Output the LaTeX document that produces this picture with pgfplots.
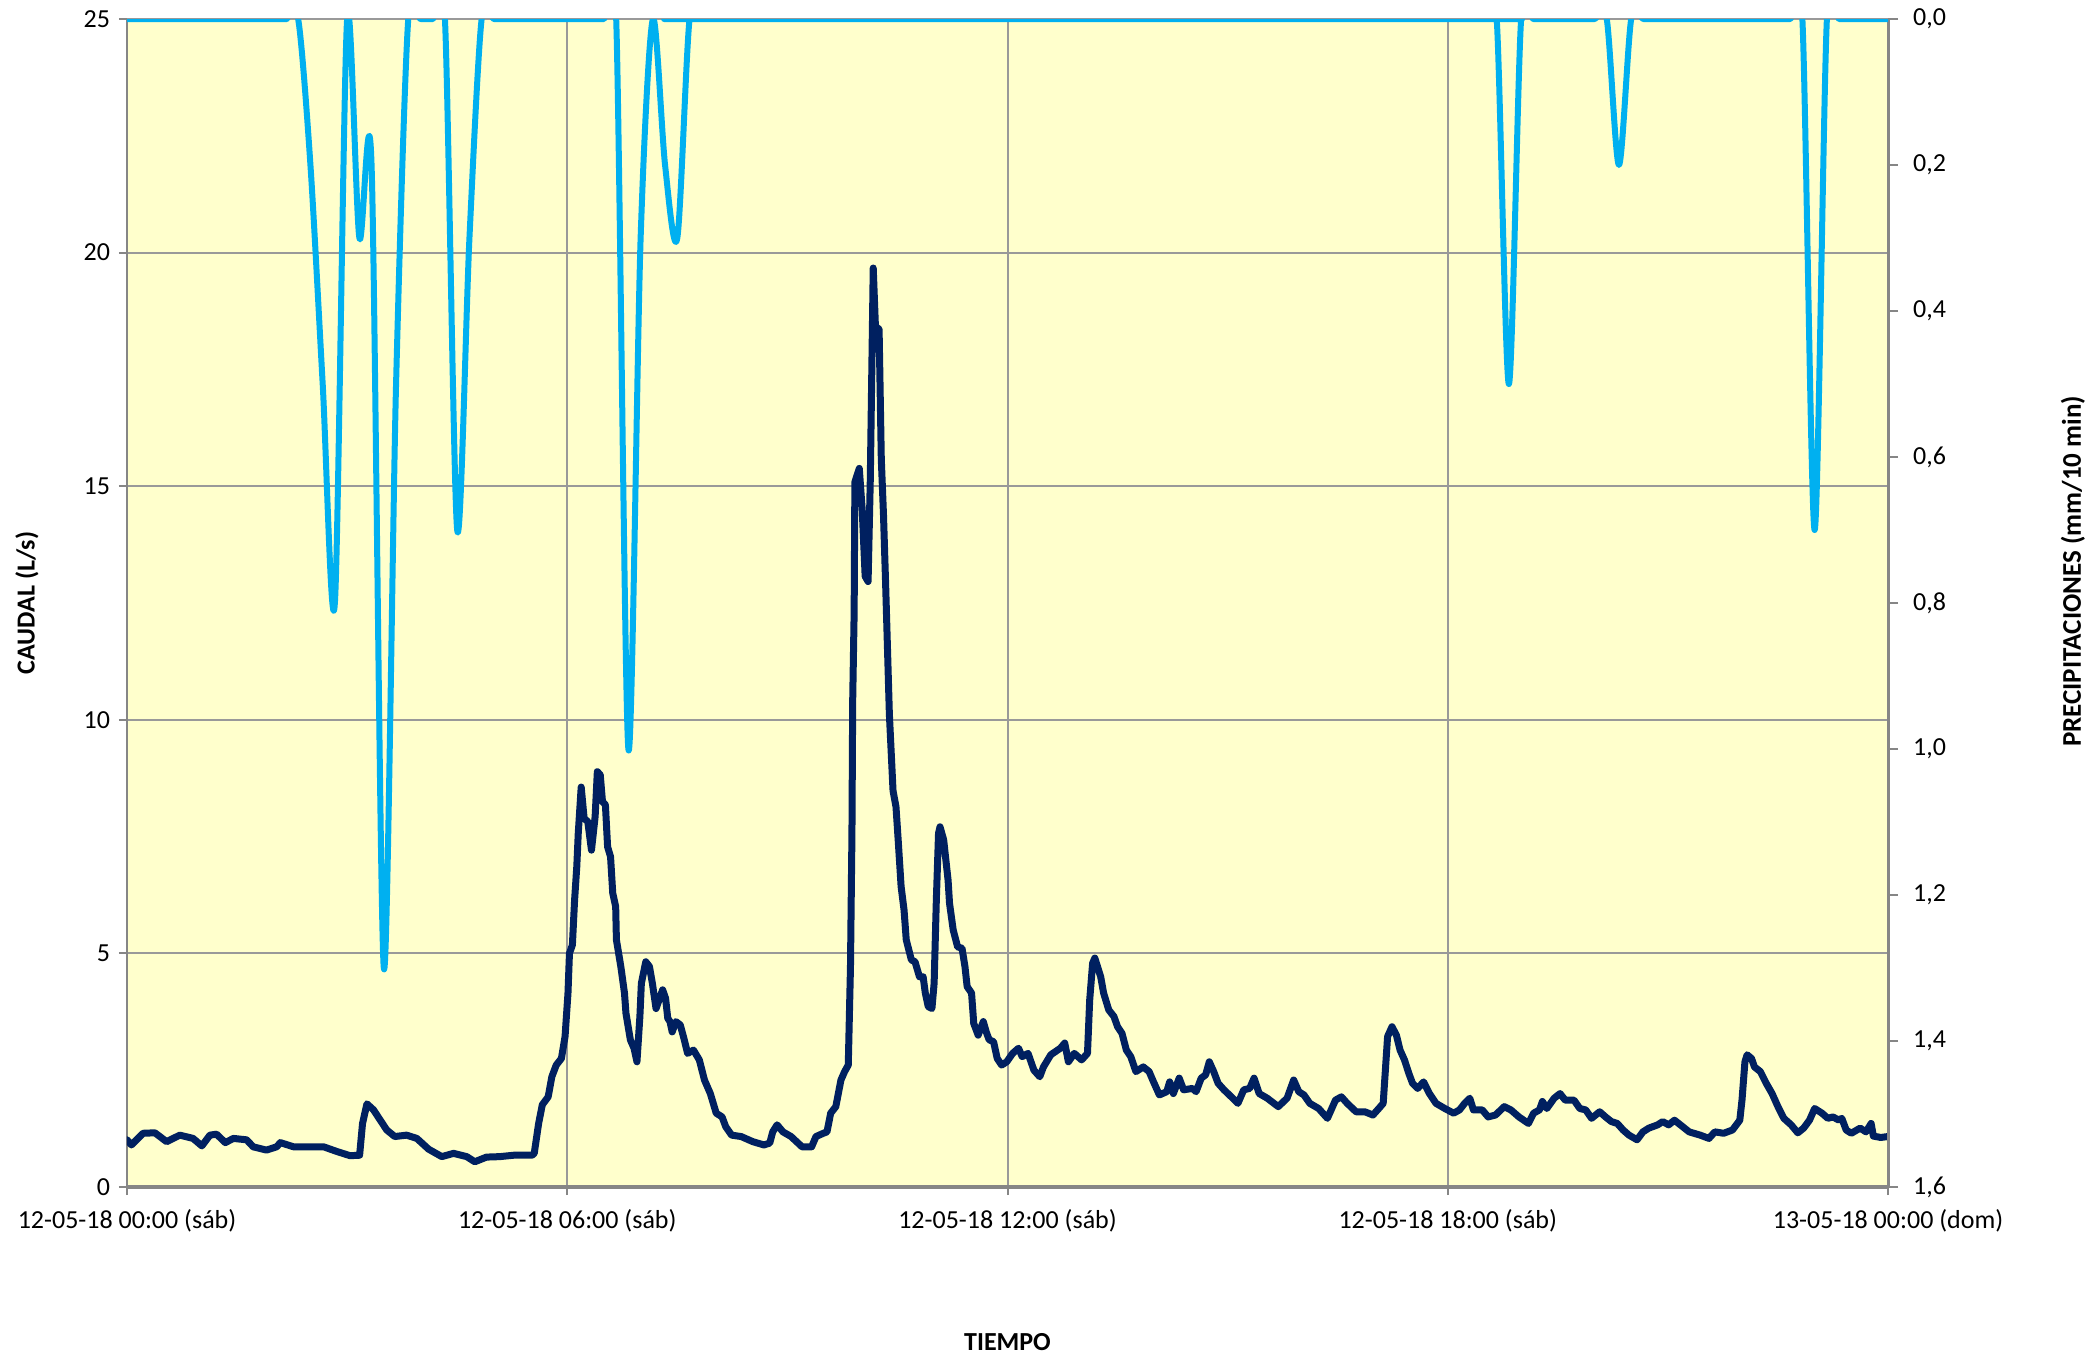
\documentclass[border=0pt]{standalone}
\usepackage{pgfplots}
\pgfplotsset{compat=1.18}
\usepackage{fontspec}
\setmainfont{Carlito}
\definecolor{bg}{RGB}{255,255,204}
\definecolor{caudal}{RGB}{0,32,96}
\definecolor{lluvia}{RGB}{0,176,240}
\definecolor{gridc}{RGB}{153,153,153}
\definecolor{axc}{RGB}{134,134,134}
\begin{document}
\begin{tikzpicture}[x=1pt,y=1pt]
\useasboundingbox (-63.5,-86) rectangle (980,593.5);
\begin{axis}[
 at={(0,0)}, anchor=south west, scale only axis,
 width=880.5pt, height=584pt,
 xmin=0, xmax=24, ymin=0, ymax=25,
 axis background/.style={fill=bg},
 axis x line=bottom, axis y line=left,
 x axis line style={-, draw=axc, line width=2pt},
 y axis line style={-, draw=axc, line width=1pt},
 xtick={0,6,12,18,24},
 xticklabels={12-05-18 00:00 (sáb),12-05-18 06:00 (sáb),12-05-18 12:00 (sáb),12-05-18 18:00 (sáb),13-05-18 00:00 (dom)},
 ytick={0,5,10,15,20,25},
 tick align=outside,
 major tick length=4pt,
 tick style={draw=axc, line width=1pt},
 grid=major,
 major grid style={draw=gridc, line width=1pt},
 /pgf/number format/assume math mode=true,
 every tick label/.append style={font=\fontsize{13}{15.6}\selectfont, text=black},
 xticklabel style={yshift=-3.5pt},
 yticklabel style={xshift=-1pt},
 every axis x label/.style={at={(axis description cs:0.5,-0.1327)}, anchor=center, font=\bfseries\fontsize{13}{15.6}\selectfont},
 every axis y label/.style={at={(axis description cs:-0.0568,0.5)}, anchor=center, rotate=90, font=\bfseries\fontsize{13}{15.6}\selectfont},
 xlabel={TIEMPO}, ylabel={CAUDAL (L/s)},
]
\addplot[caudal, line width=3.5pt, line join=round, line cap=round] coordinates {
(0,1.01)(0.06,0.90)(0.22,1.15)(0.38,1.16)(0.54,0.97)(0.72,1.11)(0.90,1.04)(1.02,0.88)(1.13,1.11)(1.22,1.13)(1.34,0.95)(1.45,1.04)(1.63,1.01)(1.72,0.86)(1.90,0.79)(2.04,0.86)(2.09,0.95)(2.27,0.86)(2.45,0.86)(2.68,0.86)(2.86,0.76)(3.04,0.67)(3.17,0.68)(3.21,1.36)(3.27,1.78)(3.36,1.65)(3.54,1.22)(3.65,1.08)(3.81,1.11)(3.95,1.04)(4.11,0.81)(4.29,0.65)(4.45,0.72)(4.63,0.65)(4.74,0.54)(4.90,0.64)(5.08,0.65)(5.27,0.68)(5.52,0.68)
(5.55,0.72)(5.61,1.36)(5.66,1.76)(5.74,1.93)(5.79,2.36)(5.85,2.61)(5.92,2.75)(5.97,3.22)(6.01,4.15)(6.03,5.00)(6.07,5.18)(6.10,6.14)(6.13,6.86)(6.15,7.57)(6.19,8.56)(6.23,7.89)(6.28,7.82)(6.33,7.21)(6.38,7.93)(6.41,8.89)(6.45,8.82)(6.48,8.25)(6.52,8.18)(6.55,7.28)(6.59,7.07)(6.62,6.29)(6.66,6.00)(6.67,5.29)(6.73,4.72)(6.78,4.15)(6.80,3.72)(6.86,3.15)(6.91,2.97)(6.95,2.68)(6.99,3.65)(7.01,4.36)(7.07,4.82)(7.12,4.72)(7.16,4.36)(7.21,3.82)(7.25,4.00)(7.30,4.22)(7.34,4.04)(7.37,3.61)(7.40,3.54)(7.43,3.32)(7.48,3.54)(7.54,3.47)(7.59,3.18)(7.64,2.86)(7.72,2.93)(7.80,2.72)(7.87,2.29)(7.95,2.00)(8.03,1.58)(8.11,1.50)(8.16,1.29)(8.24,1.11)(8.37,1.08)(8.53,0.97)(8.68,0.90)(8.76,0.94)(8.80,1.18)(8.86,1.33)(8.94,1.18)(9.05,1.08)(9.20,0.86)(9.33,0.86)(9.39,1.08)(9.49,1.15)(9.54,1.18)(9.59,1.58)(9.66,1.72)(9.73,2.29)(9.78,2.47)(9.83,2.61)(9.86,4.72)(9.88,7.57)(9.89,10.4)
(9.91,12.3)(9.92,15.09)(9.98,15.38)(10.02,14.49)(10.06,13.07)(10.10,12.96)(10.13,15.14)(10.17,19.67)(10.20,18.42)(10.25,18.36)(10.28,15.58)(10.31,14.38)(10.34,12.85)(10.39,10.12)(10.44,8.48)
(10.48,8.14)(10.51,7.43)(10.55,6.43)(10.59,5.93)(10.62,5.29)(10.69,4.86)(10.74,4.82)(10.80,4.50)(10.85,4.50)(10.88,4.15)(10.92,3.86)(10.97,3.82)(11.00,4.36)(11.03,6.14)(11.06,7.57)(11.08,7.71)(11.13,7.43)(11.19,6.57)(11.21,6.07)(11.26,5.50)(11.32,5.14)(11.38,5.11)(11.42,4.72)(11.45,4.29)(11.51,4.15)(11.54,3.50)(11.60,3.25)(11.67,3.54)(11.71,3.32)(11.75,3.15)(11.81,3.11)(11.86,2.75)(11.92,2.61)(11.99,2.68)(12.07,2.86)(12.15,2.97)(12.20,2.79)(12.28,2.86)(12.36,2.50)(12.44,2.36)(12.49,2.57)(12.59,2.83)(12.72,2.97)(12.78,3.08)(12.83,2.68)(12.91,2.86)(13.01,2.72)(13.09,2.86)(13.12,4.00)(13.16,4.79)(13.19,4.90)
(13.27,4.50)(13.31,4.15)(13.38,3.79)(13.45,3.65)(13.50,3.43)(13.56,3.29)(13.62,2.93)(13.68,2.79)(13.75,2.47)(13.85,2.57)(13.93,2.47)(13.99,2.25)(14.07,1.97)(14.17,2.04)(14.21,2.25)(14.26,2.00)(14.34,2.33)(14.40,2.08)(14.52,2.11)(14.57,2.04)(14.64,2.33)(14.70,2.40)(14.75,2.68)(14.81,2.47)(14.87,2.22)(14.95,2.08)(15.07,1.90)(15.14,1.79)(15.22,2.08)(15.30,2.11)(15.36,2.33)(15.43,2.00)(15.54,1.90)(15.69,1.72)(15.81,1.90)(15.90,2.29)(15.97,2.04)(16.04,1.97)(16.12,1.79)(16.24,1.68)(16.36,1.47)(16.47,1.86)(16.55,1.93)(16.63,1.79)(16.75,1.61)(16.87,1.61)(16.98,1.54)(17.06,1.68)(17.12,1.79)(17.18,3.22)(17.24,3.43)(17.30,3.25)(17.35,2.93)(17.41,2.72)(17.47,2.43)(17.52,2.22)(17.59,2.11)(17.67,2.25)(17.75,2.00)(17.84,1.79)(17.96,1.68)(18.08,1.58)(18.16,1.65)(18.23,1.79)(18.30,1.90)(18.35,1.65)(18.47,1.65)(18.55,1.50)(18.65,1.54)(18.77,1.72)(18.86,1.65)(18.97,1.50)(19.10,1.36)(19.17,1.58)(19.25,1.65)(19.29,1.83)(19.35,1.68)(19.45,1.90)(19.53,2.00)(19.60,1.86)(19.72,1.86)(19.80,1.68)(19.88,1.65)(19.96,1.47)(20.07,1.61)(20.15,1.50)(20.23,1.40)(20.31,1.36)(20.39,1.22)(20.47,1.11)(20.58,1.01)(20.66,1.18)(20.74,1.26)(20.86,1.33)(20.93,1.40)(21.01,1.33)(21.09,1.43)(21.17,1.33)(21.29,1.18)(21.44,1.11)(21.56,1.04)(21.64,1.18)(21.76,1.15)(21.88,1.22)(21.98,1.43)(22.01,1.86)(22.05,2.68)(22.08,2.83)(22.14,2.75)(22.18,2.57)(22.26,2.47)(22.34,2.22)(22.42,2.00)(22.50,1.72)(22.58,1.47)(22.68,1.33)(22.77,1.16)(22.85,1.26)(22.93,1.43)(23.00,1.68)(23.10,1.58)(23.18,1.47)(23.25,1.50)(23.33,1.43)(23.37,1.47)(23.43,1.22)(23.50,1.15)(23.62,1.26)(23.70,1.18)(23.77,1.36)(23.80,1.09)(23.90,1.06)(24.0,1.08)
};
\end{axis}
\begin{axis}[
 at={(0,0)}, anchor=south west, scale only axis,
 width=880.5pt, height=584pt,
 xmin=0, xmax=24, ymin=0, ymax=1.6, y dir=reverse,
 axis x line=none, axis y line=right,
 y axis line style={-, draw=axc, line width=1.5pt},
 ytick={0,0.2,0.4,0.6,0.8,1.0,1.2,1.4,1.6},
 scaled y ticks=false,
 tick align=outside,
 major tick length=5pt,
 tick style={draw=axc, line width=1pt},
 every tick label/.append style={font=\fontsize{13}{15.6}\selectfont, text=black},
 yticklabel style={/pgf/number format/fixed, /pgf/number format/fixed zerofill, /pgf/number format/precision=1, /pgf/number format/use comma, /pgf/number format/assume math mode=true, xshift=4pt},
 every axis y label/.style={at={(axis description cs:1.105,0.527)}, anchor=center, rotate=90, font=\bfseries\fontsize{13.5}{16}\selectfont},
 ylabel={PRECIPITACIONES (mm/10 min)},
]
\addplot[lluvia, line width=3pt, smooth, line join=round] table {
x y
0 0
2.0 0
2.167 0
2.333 0
2.5 0.2
2.667 0.5
2.833 0.8
3.0 0
3.167 0.3
3.333 0.2
3.5 1.3
3.667 0.5
3.833 0
4.0 0
4.167 0
4.333 0
4.5 0.7
4.667 0.3
4.833 0
5.0 0
5.167 0
6.333 0
6.5 0
6.667 0
6.833 1.0
7.0 0.3
7.167 0
7.333 0.2
7.5 0.3
7.667 0
7.833 0
8.0 0
18.333 0
18.5 0
18.667 0
18.833 0.5
19.0 0
19.167 0
19.333 0
19.833 0
20.0 0
20.167 0
20.333 0.2
20.5 0
20.667 0
20.833 0
22.5 0
22.667 0
22.833 0
23.0 0.7
23.167 0
23.333 0
23.5 0
24 0
};
\end{axis}
\end{tikzpicture}
\end{document}
